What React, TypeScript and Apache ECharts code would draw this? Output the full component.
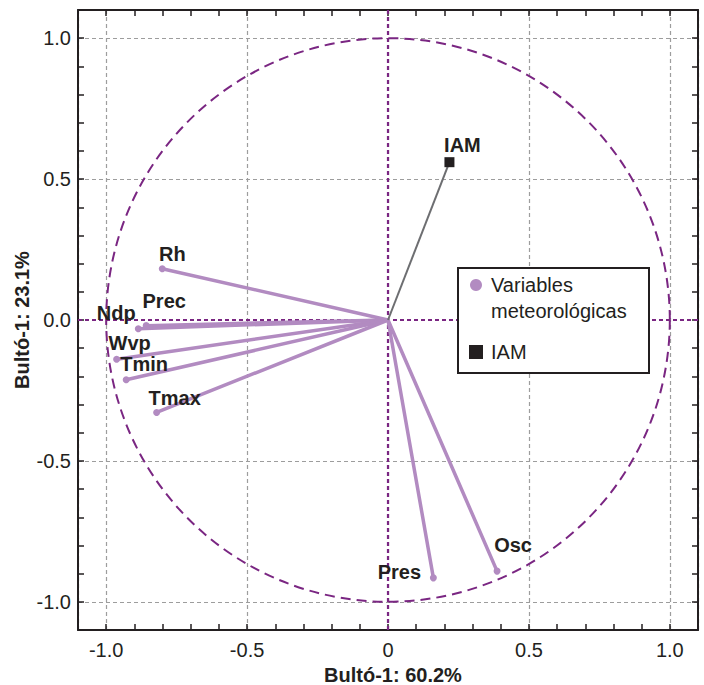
import React, { useEffect, useRef } from 'react';
import * as echarts from 'echarts';

// ---- data ----
const varNames = ['Rh', 'Prec', 'Ndp', 'Wvp', 'Tmin', 'Tmax', 'Pres', 'Osc'];
const varX = [-0.801, -0.858, -0.886, -0.963, -0.929, -0.821, 0.161, 0.387];
const varY = [0.182, -0.02, -0.031, -0.139, -0.212, -0.328, -0.915, -0.891];
const iamNames = ['IAM'];
const iamX = [0.218];
const iamY = [0.56];
const axisMin = -1.1;
const axisMax = 1.1;
const xTitle = 'Bultó-1: 60.2%';
const yTitle = 'Bultó-1: 23.1%';
const legendVarLines = ['Variables', 'meteorológicas'];
const legendIam = 'IAM';

// ---- styles ----
const FONT = '"Liberation Sans", Arial, Helvetica, sans-serif';
const INK = '#231f20';
const VAR_COLOR = '#b28bc1';
const IAM_LINE = '#6d6e71';
const PURPLE = '#7a2682';
const GRID_GRAY = '#9d9d9d';

const labelOffsets: Record<string, [number, number]> = {
  Rh: [10, -15],
  Prec: [18, -25],
  Ndp: [-22, -16],
  Wvp: [13, -16],
  Tmin: [18, -16],
  Tmax: [18, -14],
  Pres: [-34, -6],
  Osc: [16, -26],
  IAM: [13, -17],
};

function textEl(x: number, y: number, text: string, bold: boolean, align = 'center', z?: number) {
  const el: any = {
    type: 'text',
    x,
    y,
    style: {
      text,
      fill: INK,
      font: `${bold ? 'bold ' : ''}20px ${FONT}`,
      align,
      verticalAlign: 'middle',
      textAlign: align,
      textVerticalAlign: 'middle',
    },
  };
  if (z != null) el.z = z;
  return el;
}

export default function App() {
  const ref = useRef<HTMLDivElement>(null);

  useEffect(() => {
    if (!ref.current) return;
    const chart = echarts.init(ref.current, null, { renderer: 'svg' });

    const tickStyle = { color: INK, width: 1.5 };
    const baseAxis = {
      type: 'value',
      min: axisMin,
      max: axisMax,
      splitNumber: 5,
      axisLine: { show: true, onZero: false, lineStyle: { color: INK, width: 2 } },
      axisTick: { show: true, inside: true, length: 6, lineStyle: tickStyle },
      minorTick: { show: true, splitNumber: 5, length: 6, lineStyle: tickStyle },
      minorSplitLine: { show: false },
    };

    const varData = varNames.map((n, i) => [varX[i], varY[i], n]);
    const iamData = iamNames.map((n, i) => [iamX[i], iamY[i], n]);

    chart.setOption({
      animation: false,
      backgroundColor: '#ffffff',
      grid: {
        left: 78,
        top: 10,
        width: 620,
        height: 620,
        containLabel: false,
        outerBoundsMode: 'none',
      },
      xAxis: [
        {
          ...baseAxis,
          position: 'bottom',
          name: xTitle,
          nameLocation: 'middle',
          nameGap: 33,
          nameTextStyle: {
            color: INK,
            fontSize: 20,
            fontWeight: 'bold',
            fontFamily: FONT,
            padding: [0, 0, 0, 10],
          },
          axisLabel: {
            show: true,
            margin: 10,
            color: INK,
            fontSize: 20,
            fontFamily: FONT,
            showMinLabel: false,
            showMaxLabel: false,
            formatter: (v: number) => (Math.abs(v) < 1e-9 ? '0' : v.toFixed(1)),
          },
          splitLine: { show: true, lineStyle: { color: GRID_GRAY, type: [4, 3], width: 1.2 } },
        },
        {
          ...baseAxis,
          position: 'top',
          axisLabel: { show: false },
          splitLine: { show: false },
        },
      ],
      yAxis: [
        {
          ...baseAxis,
          position: 'left',
          name: yTitle,
          nameLocation: 'middle',
          nameGap: 46,
          nameMoveOverlap: false,
          nameTextStyle: { color: INK, fontSize: 20, fontWeight: 'bold', fontFamily: FONT },
          axisLabel: {
            show: true,
            margin: 7,
            color: INK,
            fontSize: 20,
            fontFamily: FONT,
            showMinLabel: false,
            showMaxLabel: false,
            formatter: (v: number) => (Math.abs(v) < 1e-9 ? '0.0' : v.toFixed(1)),
          },
          splitLine: { show: true, lineStyle: { color: GRID_GRAY, type: [4, 3], width: 1.2 } },
        },
        {
          ...baseAxis,
          position: 'right',
          axisLabel: { show: false },
          splitLine: { show: false },
        },
      ],
      series: [
        {
          type: 'custom',
          name: 'ref',
          xAxisIndex: 0,
          yAxisIndex: 0,
          silent: true,
          z: 1,
          data: [[0, 0]],
          renderItem: (params: any, api: any) => {
            const c = api.coord([0, 0]);
            const e = api.coord([1, 0]);
            const r = e[0] - c[0];
            const cs = params.coordSys;
            return {
              type: 'group',
              children: [
                {
                  type: 'circle',
                  shape: { cx: c[0], cy: c[1], r },
                  style: { fill: 'none', stroke: PURPLE, lineWidth: 2, lineDash: [10, 6] },
                },
                {
                  type: 'line',
                  shape: { x1: cs.x, y1: c[1], x2: cs.x + cs.width, y2: c[1] },
                  style: { stroke: PURPLE, lineWidth: 2.2, lineDash: [4, 3] },
                },
                {
                  type: 'line',
                  shape: { x1: c[0], y1: cs.y, x2: c[0], y2: cs.y + cs.height },
                  style: { stroke: PURPLE, lineWidth: 2.2, lineDash: [4, 3] },
                },
              ],
            };
          },
        },
        {
          type: 'custom',
          name: 'Variables meteorológicas',
          xAxisIndex: 0,
          yAxisIndex: 0,
          z: 3,
          itemStyle: { color: VAR_COLOR },
          data: varData,
          encode: { x: 0, y: 1 },
          renderItem: (params: any, api: any) => {
            const o = api.coord([0, 0]);
            const p = api.coord([api.value(0), api.value(1)]);
            const name = varNames[params.dataIndex];
            const off = labelOffsets[name] || [0, -16];
            return {
              type: 'group',
              children: [
                {
                  type: 'line',
                  shape: { x1: o[0], y1: o[1], x2: p[0], y2: p[1] },
                  style: { stroke: VAR_COLOR, lineWidth: 3.5, lineCap: 'round' },
                },
                {
                  type: 'circle',
                  shape: { cx: p[0], cy: p[1], r: 3.5 },
                  style: { fill: VAR_COLOR },
                },
                textEl(p[0] + off[0], p[1] + off[1], name, true),
              ],
            };
          },
        },
        {
          type: 'custom',
          name: 'IAM',
          xAxisIndex: 0,
          yAxisIndex: 0,
          z: 4,
          itemStyle: { color: INK },
          data: iamData,
          encode: { x: 0, y: 1 },
          renderItem: (params: any, api: any) => {
            const o = api.coord([0, 0]);
            const p = api.coord([api.value(0), api.value(1)]);
            const name = iamNames[params.dataIndex];
            const off = labelOffsets[name] || [0, -16];
            return {
              type: 'group',
              children: [
                {
                  type: 'line',
                  shape: { x1: o[0], y1: o[1], x2: p[0], y2: p[1] },
                  style: { stroke: IAM_LINE, lineWidth: 2 },
                },
                {
                  type: 'rect',
                  shape: { x: p[0] - 5, y: p[1] - 5, width: 10, height: 10 },
                  style: { fill: INK },
                },
                textEl(p[0] + off[0], p[1] + off[1], name, true),
              ],
            };
          },
        },
      ],
      graphic: [
        {
          type: 'rect',
          z: 100,
          shape: { x: 458, y: 268, width: 191, height: 105 },
          style: { fill: '#ffffff', stroke: INK, lineWidth: 2 },
        },
        {
          type: 'circle',
          z: 101,
          shape: { cx: 476, cy: 285, r: 6 },
          style: { fill: VAR_COLOR },
        },
        textEl(491, 285, legendVarLines[0], false, 'left', 101),
        textEl(491, 311, legendVarLines[1], false, 'left', 101),
        {
          type: 'rect',
          z: 101,
          shape: { x: 469, y: 345, width: 14, height: 14 },
          style: { fill: INK },
        },
        textEl(491, 352, legendIam, false, 'left', 101),
      ],
    });

    return () => chart.dispose();
  }, []);

  return (
    <div
      ref={ref}
      style={{ position: 'fixed', left: 0, top: 0, width: 704, height: 685, background: '#fff' }}
    />
  );
}
